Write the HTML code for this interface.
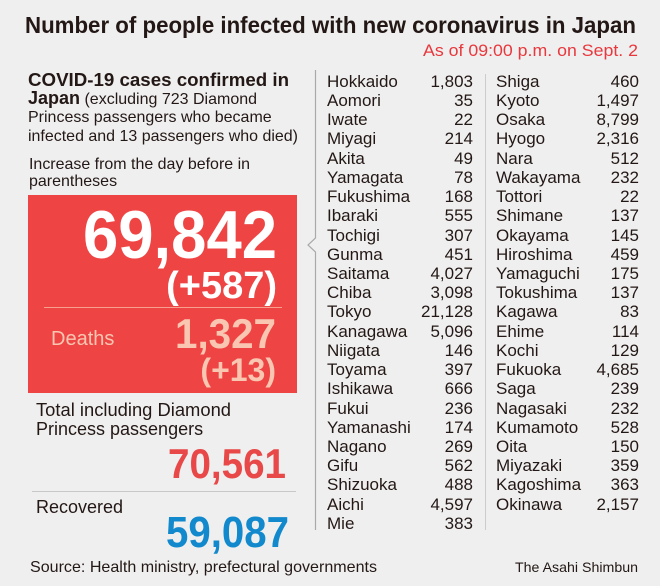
<!DOCTYPE html>
<html><head><meta charset="utf-8"><style>
html,body{margin:0;padding:0;background:#efefef;}
svg{display:block;font-family:"Liberation Sans",Arial,sans-serif;}
</style></head><body>
<svg width="660" height="586" viewBox="0 0 660 586">
<rect width="660" height="586" fill="#efefef"/>
<text x="25" y="33" font-size="23" font-weight="bold" fill="#231815" textLength="611" lengthAdjust="spacingAndGlyphs">Number of people infected with new coronavirus in Japan</text>
<text x="638" y="56" font-size="16.5" fill="#e8383d" text-anchor="end" textLength="215" lengthAdjust="spacingAndGlyphs">As of 09:00 p.m. on Sept. 2</text>
<text x="28" y="86" font-size="18" font-weight="bold" fill="#231815" textLength="261" lengthAdjust="spacingAndGlyphs">COVID-19 cases confirmed in</text>
<text x="28" y="104" font-size="16" fill="#231815"><tspan font-size="18" font-weight="bold">Japan</tspan> (excluding 723 Diamond</text>
<text x="28" y="122" font-size="16" fill="#231815">Princess passengers who became</text>
<text x="28" y="141" font-size="16" fill="#231815" textLength="270" lengthAdjust="spacingAndGlyphs">infected and 13 passengers who died)</text>
<text x="29" y="169" font-size="16" fill="#231815" textLength="221" lengthAdjust="spacingAndGlyphs">Increase from the day before in</text>
<text x="29" y="186" font-size="16" fill="#231815">parentheses</text>
<rect x="28" y="195" width="269" height="198" fill="#ef4444"/>
<text x="277" y="258" font-size="68" font-weight="bold" fill="#fff" text-anchor="end" textLength="194" lengthAdjust="spacingAndGlyphs">69,842</text>
<text x="277" y="298" font-size="38" font-weight="bold" fill="#fff" text-anchor="end">(+587)</text>
<line x1="44" y1="307.5" x2="282" y2="307.5" stroke="#f7a08f" stroke-width="1"/>
<text x="51" y="345" font-size="20" fill="#f9c6b2">Deaths</text>
<text x="276" y="348" font-size="42" font-weight="bold" fill="#f9c6b2" text-anchor="end" textLength="101" lengthAdjust="spacingAndGlyphs">1,327</text>
<text x="276" y="381" font-size="32" font-weight="bold" fill="#f9c6b2" text-anchor="end">(+13)</text>
<text x="36" y="416" font-size="18" fill="#231815" textLength="195" lengthAdjust="spacingAndGlyphs">Total including Diamond</text>
<text x="36" y="435" font-size="18" fill="#231815">Princess passengers</text>
<text x="286" y="478" font-size="42" font-weight="bold" fill="#e84848" text-anchor="end" textLength="118" lengthAdjust="spacingAndGlyphs">70,561</text>
<line x1="32" y1="491.5" x2="296" y2="491.5" stroke="#c8c8c8"/>
<text x="36" y="513" font-size="18" fill="#231815">Recovered</text>
<text x="289" y="547" font-size="44" font-weight="bold" fill="#1289cc" text-anchor="end" textLength="123" lengthAdjust="spacingAndGlyphs">59,087</text>
<path d="M315.5 70 V238 L308 245 L315.5 252 V530" fill="none" stroke="#aaa" stroke-width="1.2"/>
<line x1="485.5" y1="74" x2="485.5" y2="530" stroke="#ccc"/>
<g font-size="17" fill="#231815">
<text x="327" y="87">Hokkaido</text><text x="473" y="87" text-anchor="end">1,803</text>
<text x="327" y="106">Aomori</text><text x="473" y="106" text-anchor="end">35</text>
<text x="327" y="125">Iwate</text><text x="473" y="125" text-anchor="end">22</text>
<text x="327" y="144">Miyagi</text><text x="473" y="144" text-anchor="end">214</text>
<text x="327" y="164">Akita</text><text x="473" y="164" text-anchor="end">49</text>
<text x="327" y="183">Yamagata</text><text x="473" y="183" text-anchor="end">78</text>
<text x="327" y="202">Fukushima</text><text x="473" y="202" text-anchor="end">168</text>
<text x="327" y="221">Ibaraki</text><text x="473" y="221" text-anchor="end">555</text>
<text x="327" y="241">Tochigi</text><text x="473" y="241" text-anchor="end">307</text>
<text x="327" y="260">Gunma</text><text x="473" y="260" text-anchor="end">451</text>
<text x="327" y="279">Saitama</text><text x="473" y="279" text-anchor="end">4,027</text>
<text x="327" y="298">Chiba</text><text x="473" y="298" text-anchor="end">3,098</text>
<text x="327" y="317">Tokyo</text><text x="473" y="317" text-anchor="end">21,128</text>
<text x="327" y="337">Kanagawa</text><text x="473" y="337" text-anchor="end">5,096</text>
<text x="327" y="356">Niigata</text><text x="473" y="356" text-anchor="end">146</text>
<text x="327" y="375">Toyama</text><text x="473" y="375" text-anchor="end">397</text>
<text x="327" y="394">Ishikawa</text><text x="473" y="394" text-anchor="end">666</text>
<text x="327" y="414">Fukui</text><text x="473" y="414" text-anchor="end">236</text>
<text x="327" y="433">Yamanashi</text><text x="473" y="433" text-anchor="end">174</text>
<text x="327" y="452">Nagano</text><text x="473" y="452" text-anchor="end">269</text>
<text x="327" y="471">Gifu</text><text x="473" y="471" text-anchor="end">562</text>
<text x="327" y="490">Shizuoka</text><text x="473" y="490" text-anchor="end">488</text>
<text x="327" y="510">Aichi</text><text x="473" y="510" text-anchor="end">4,597</text>
<text x="327" y="529">Mie</text><text x="473" y="529" text-anchor="end">383</text>
<text x="496" y="87">Shiga</text><text x="639" y="87" text-anchor="end">460</text>
<text x="496" y="106">Kyoto</text><text x="639" y="106" text-anchor="end">1,497</text>
<text x="496" y="125">Osaka</text><text x="639" y="125" text-anchor="end">8,799</text>
<text x="496" y="144">Hyogo</text><text x="639" y="144" text-anchor="end">2,316</text>
<text x="496" y="164">Nara</text><text x="639" y="164" text-anchor="end">512</text>
<text x="496" y="183">Wakayama</text><text x="639" y="183" text-anchor="end">232</text>
<text x="496" y="202">Tottori</text><text x="639" y="202" text-anchor="end">22</text>
<text x="496" y="221">Shimane</text><text x="639" y="221" text-anchor="end">137</text>
<text x="496" y="241">Okayama</text><text x="639" y="241" text-anchor="end">145</text>
<text x="496" y="260">Hiroshima</text><text x="639" y="260" text-anchor="end">459</text>
<text x="496" y="279">Yamaguchi</text><text x="639" y="279" text-anchor="end">175</text>
<text x="496" y="298">Tokushima</text><text x="639" y="298" text-anchor="end">137</text>
<text x="496" y="317">Kagawa</text><text x="639" y="317" text-anchor="end">83</text>
<text x="496" y="337">Ehime</text><text x="639" y="337" text-anchor="end">114</text>
<text x="496" y="356">Kochi</text><text x="639" y="356" text-anchor="end">129</text>
<text x="496" y="375">Fukuoka</text><text x="639" y="375" text-anchor="end">4,685</text>
<text x="496" y="394">Saga</text><text x="639" y="394" text-anchor="end">239</text>
<text x="496" y="414">Nagasaki</text><text x="639" y="414" text-anchor="end">232</text>
<text x="496" y="433">Kumamoto</text><text x="639" y="433" text-anchor="end">528</text>
<text x="496" y="452">Oita</text><text x="639" y="452" text-anchor="end">150</text>
<text x="496" y="471">Miyazaki</text><text x="639" y="471" text-anchor="end">359</text>
<text x="496" y="490">Kagoshima</text><text x="639" y="490" text-anchor="end">363</text>
<text x="496" y="510">Okinawa</text><text x="639" y="510" text-anchor="end">2,157</text>
</g>
<text x="30" y="572" font-size="16" fill="#231815" textLength="347" lengthAdjust="spacingAndGlyphs">Source: Health ministry, prefectural governments</text>
<text x="638" y="572" font-size="14" fill="#231815" text-anchor="end" textLength="123" lengthAdjust="spacingAndGlyphs">The Asahi Shimbun</text>
</svg>
</body></html>
